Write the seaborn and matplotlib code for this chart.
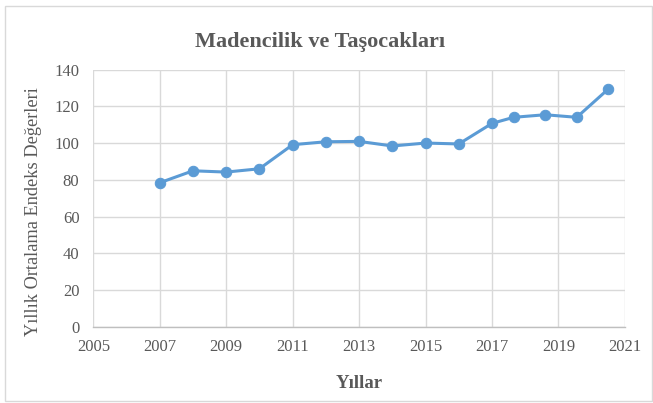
import matplotlib
matplotlib.use("Agg")
import matplotlib.pyplot as plt
from matplotlib.patches import Rectangle
import seaborn as sns
import pandas as pd

# Annual average index values for mining and quarrying
years = [2007, 2008, 2009, 2010, 2011, 2012, 2013, 2014, 2015, 2016,
         2017, 2017.65, 2018.6, 2019.55, 2020.5]
index_values = [78.5, 85.0, 84.3, 86.1, 99.2, 100.8, 101.0, 98.5, 100.1, 99.6,
                110.8, 114.1, 115.5, 114.1, 129.5]
x_ticks = [2005, 2007, 2009, 2011, 2013, 2015, 2017, 2019, 2021]
y_ticks = [0, 20, 40, 60, 80, 100, 120, 140]

df = pd.DataFrame({"Yıl": years, "Endeks": index_values})

sns.set_theme(style="white")
plt.rcParams["font.family"] = ["Liberation Serif", "DejaVu Serif"]

text_gray = "#595959"
grid_gray = "#d9d9d9"
line_blue = "#5b9bd5"

fig = plt.figure(figsize=(6.53, 4.03), dpi=100)
ax = fig.add_axes([0.1429, 0.1886, 0.957 - 0.1429, 0.827 - 0.1886])

sns.lineplot(data=df, x="Yıl", y="Endeks", ax=ax, color=line_blue,
             linewidth=2.2, marker="o", markersize=7.5,
             markeredgecolor=line_blue, markerfacecolor=line_blue)

ax.set_xlim(2005, 2021)
ax.set_ylim(0, 140)
ax.set_xticks(x_ticks)
ax.set_yticks(y_ticks)
ax.set_xticklabels([str(t) for t in x_ticks])
ax.set_yticklabels([str(t) for t in y_ticks])
ax.grid(True, color=grid_gray, linewidth=1.0)
ax.set_axisbelow(True)
for side in ["top", "right", "left"]:
    ax.spines[side].set_visible(False)
ax.spines["bottom"].set_color("#bfbfbf")
ax.spines["bottom"].set_linewidth(1.0)
ax.tick_params(axis="both", length=0, labelsize=12, labelcolor=text_gray)
ax.tick_params(axis="y", pad=10)
ax.tick_params(axis="x", pad=9)

ax.set_xlabel("Yıllar", fontsize=13.5, fontweight="bold", color=text_gray, labelpad=14)
ax.set_ylabel("Yıllık Ortalama Endeks Değerleri", fontsize=13.2, color=text_gray)
ax.yaxis.set_label_coords(-0.097, 0.45)
fig.text(0.49, 0.895, "Madencilik ve Taşocakları", fontsize=16, fontweight="bold",
         color=text_gray, ha="center", va="center")

# Chart area border
fig.patches.append(Rectangle((0.008, 0.005), 0.99, 0.98, transform=fig.transFigure,
                             fill=False, edgecolor="#d9d9d9", linewidth=1.0))

fig.savefig("out.png", dpi=100)
